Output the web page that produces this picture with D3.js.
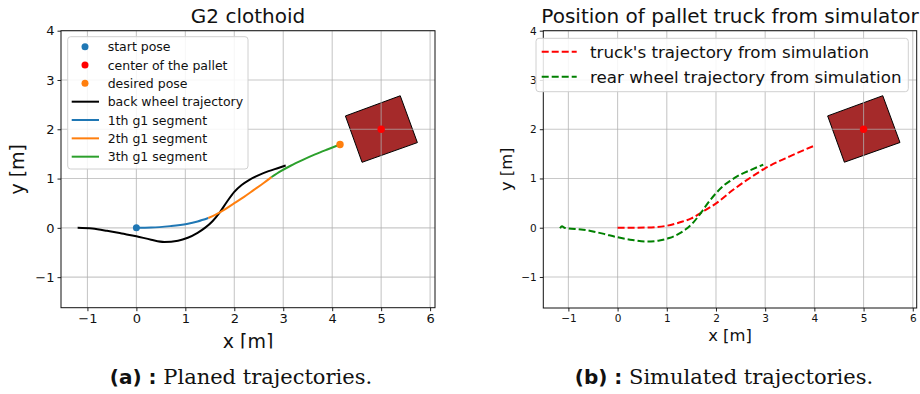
<!DOCTYPE html>
<html><head><meta charset="utf-8">
<script src="https://cdn.jsdelivr.net/npm/d3@7"></script>
<style>body{margin:0;background:#fff}svg{display:block}text{font-family:"DejaVu Sans",sans-serif}</style>
</head><body><svg id="c" width="920" height="394"></svg>
<script>
// ---- data ----
const xTicks = [-1, 0, 1, 2, 3, 4, 5, 6];
const yTicks = [-1, 0, 1, 2, 3, 4];
const palletCorners = [[4.27, 2.27], [5.39, 2.68], [5.74, 1.73], [4.61, 1.33]];
const palletCenter = [5, 2];
const startPose = [0, 0];
const desiredPose = [4.16, 1.69];
const backWheelX = [-1.2, -0.9, -0.6, -0.3, 0, 0.3, 0.57, 0.85, 1.05, 1.25, 1.4, 1.55, 1.7, 1.85, 2.0, 2.15, 2.3, 2.5, 2.7, 2.9, 3.05];
const backWheelY = [0, -0.015, -0.06, -0.115, -0.17, -0.24, -0.285, -0.26, -0.2, -0.1, 0.0, 0.13, 0.31, 0.53, 0.73, 0.87, 0.97, 1.07, 1.15, 1.215, 1.265];
const seg1X = [0, 0.3, 0.69, 1.03, 1.25, 1.47];
const seg1Y = [0, 0.005, 0.035, 0.08, 0.13, 0.2];
const seg2X = [1.47, 1.6, 1.8, 2.0, 2.2, 2.4, 2.6, 2.76];
const seg2Y = [0.2, 0.26, 0.37, 0.5, 0.63, 0.77, 0.91, 1.03];
const seg3X = [2.76, 2.95, 3.15, 3.4, 3.65, 3.9, 4.16];
const seg3Y = [1.03, 1.15, 1.26, 1.38, 1.49, 1.59, 1.69];
const simTruckX = [0, 0.3, 0.61, 1.0, 1.27, 1.5, 1.74, 2.01, 2.35, 2.69, 2.99, 3.5, 4.01];
const simTruckY = [0, 0, 0.005, 0.04, 0.11, 0.19, 0.33, 0.50, 0.77, 1.01, 1.2, 1.45, 1.67];
const simRearX = [-1.17, -1.13, -1.08, -0.7, -0.3, -0.02, 0.3, 0.59, 0.85, 1.05, 1.25, 1.4, 1.55, 1.7, 1.85, 2.0, 2.15, 2.3, 2.5, 2.7, 2.96];
const simRearY = [-0.01, 0.03, 0.0, -0.04, -0.12, -0.19, -0.25, -0.28, -0.26, -0.21, -0.12, -0.02, 0.12, 0.31, 0.52, 0.70, 0.85, 0.96, 1.08, 1.17, 1.28];
const leftLegend = ["start pose", "center of the pallet", "desired pose", "back wheel trajectory", "1th g1 segment", "2th g1 segment", "3th g1 segment"];
const rightLegend = ["truck's trajectory from simulation", "rear wheel trajectory from simulation"];

const zip = (a, b) => a.map((v, i) => [v, b[i]]);
const svg = d3.select("#c");
const C = {blue: "#1f77b4", orange: "#ff7f0e", green: "#2ca02c", red: "#ff0000", dgreen: "#008000", brown: "#a52a2a"};

function panel(o) {
  const x = d3.scaleLinear().domain(o.xd).range([o.l, o.r]);
  const y = d3.scaleLinear().domain(o.yd).range([o.b, o.t]);
  const g = svg.append("g");
  const clipId = "clip" + o.id;
  svg.append("clipPath").attr("id", clipId).append("rect").attr("x", o.l).attr("y", o.t).attr("width", o.r - o.l).attr("height", o.b - o.t);
  const plot = g.append("g").attr("clip-path", `url(#${clipId})`);
  plot.append("path").attr("d", d3.line().x(d => x(d[0])).y(d => y(d[1]))(palletCorners) + "Z")
    .attr("fill", C.brown).attr("stroke", "#000").attr("stroke-width", 1);
  plot.selectAll(".gx").data(xTicks).join("line").attr("x1", d => x(d)).attr("x2", d => x(d)).attr("y1", o.t).attr("y2", o.b)
    .attr("stroke", "#b0b0b0").attr("stroke-opacity", 0.7).attr("stroke-width", 1.1);
  plot.selectAll(".gy").data(yTicks).join("line").attr("y1", d => y(d)).attr("y2", d => y(d)).attr("x1", o.l).attr("x2", o.r)
    .attr("stroke", "#b0b0b0").attr("stroke-opacity", 0.7).attr("stroke-width", 1.1);
  const fmt = d => d < 0 ? "\u2212" + (-d) : d;
  const ax = g.append("g").attr("transform", `translate(0,${o.b})`).call(d3.axisBottom(x).tickValues(xTicks).tickSize(3.5).tickPadding(3).tickFormat(fmt));
  const ay = g.append("g").attr("transform", `translate(${o.l},0)`).call(d3.axisLeft(y).tickValues(yTicks).tickSize(3.5).tickPadding(3).tickFormat(fmt));
  [ax, ay].forEach(a => { a.select(".domain").remove(); a.selectAll("text").attr("font-family", "DejaVu Sans").attr("font-size", o.tick).attr("fill", "#111"); a.selectAll("line").attr("stroke", "#222"); });
  g.append("rect").attr("x", o.l).attr("y", o.t).attr("width", o.r - o.l).attr("height", o.b - o.t).attr("fill", "none").attr("stroke", "#111").attr("stroke-width", 1);
  return {x, y, g, plot};
}

const line = (p) => d3.line().x(d => p.x(d[0])).y(d => p.y(d[1])).curve(d3.curveMonotoneX);

// ---- left panel ----
const L = panel({id: "L", xd: [-1.54, 6.1], yd: [-1.62, 4.0], l: 61, r: 435, t: 30.7, b: 307.7, tick: 13});
L.plot.append("path").attr("d", line(L)(zip(backWheelX, backWheelY))).attr("fill", "none").attr("stroke", "#000").attr("stroke-width", 2);
L.plot.append("path").attr("d", line(L)(zip(seg1X, seg1Y))).attr("fill", "none").attr("stroke", C.blue).attr("stroke-width", 2);
L.plot.append("path").attr("d", line(L)(zip(seg2X, seg2Y))).attr("fill", "none").attr("stroke", C.orange).attr("stroke-width", 2);
L.plot.append("path").attr("d", line(L)(zip(seg3X, seg3Y))).attr("fill", "none").attr("stroke", C.green).attr("stroke-width", 2);
L.plot.append("circle").attr("cx", L.x(startPose[0])).attr("cy", L.y(startPose[1])).attr("r", 3.5).attr("fill", C.blue);
L.plot.append("circle").attr("cx", L.x(palletCenter[0])).attr("cy", L.y(palletCenter[1])).attr("r", 3.7).attr("fill", C.red);
L.plot.append("circle").attr("cx", L.x(desiredPose[0])).attr("cy", L.y(desiredPose[1])).attr("r", 3.7).attr("fill", C.orange);
const lg = L.g.append("g");
lg.append("rect").attr("x", 67.7).attr("y", 36.7).attr("width", 180.3).attr("height", 132.3).attr("rx", 3)
  .attr("fill", "#fff").attr("fill-opacity", 0.85).attr("stroke", "#d0d0d0").attr("stroke-width", 1);
const lcols = [C.blue, C.red, C.orange, "#000", C.blue, C.orange, C.green];
leftLegend.forEach((t, i) => {
  const cy = 46.7 + i * 18.33;
  if (i < 3) lg.append("circle").attr("cx", 85).attr("cy", cy).attr("r", 3.5).attr("fill", lcols[i]);
  else lg.append("line").attr("x1", 71.7).attr("x2", 99).attr("y1", cy).attr("y2", cy).attr("stroke", lcols[i]).attr("stroke-width", 2);
  lg.append("text").attr("x", 107.7).attr("y", cy + 4.5).attr("font-size", 12.5).attr("fill", "#111").text(t);
});
svg.append("text").attr("x", 248).attr("y", 23).attr("text-anchor", "middle").attr("font-size", 20).attr("fill", "#111").text("G2 clothoid");
svg.append("text").attr("transform", "translate(24,169.3) rotate(-90)").attr("text-anchor", "middle").attr("font-size", 19).attr("fill", "#111").text("y [m]");
svg.append("clipPath").attr("id", "xlclip").append("rect").attr("x", 0).attr("y", 0).attr("width", 460).attr("height", 348.5);
svg.append("text").attr("x", 248).attr("y", 348).attr("text-anchor", "middle").attr("font-size", 19).attr("fill", "#111").attr("clip-path", "url(#xlclip)").text("x [m]");

// ---- right panel ----
const R = panel({id: "R", xd: [-1.51, 6.08], yd: [-1.63, 4.0], l: 543.3, r: 916.7, t: 30.7, b: 308, tick: 10.5});
R.plot.append("path").attr("d", line(R)(zip(simTruckX, simTruckY))).attr("fill", "none").attr("stroke", C.red).attr("stroke-width", 2).attr("stroke-dasharray", "7,3");
R.plot.append("path").attr("d", line(R)(zip(simRearX, simRearY))).attr("fill", "none").attr("stroke", C.dgreen).attr("stroke-width", 2).attr("stroke-dasharray", "7,3");
R.plot.append("circle").attr("cx", R.x(palletCenter[0])).attr("cy", R.y(palletCenter[1])).attr("r", 3.7).attr("fill", C.red);
const rg = R.g.append("g");
rg.append("rect").attr("x", 536).attr("y", 38.3).attr("width", 372.3).attr("height", 53.4).attr("rx", 3)
  .attr("fill", "#fff").attr("fill-opacity", 0.85).attr("stroke", "#d0d0d0").attr("stroke-width", 1);
const rcols = [C.red, C.dgreen];
rightLegend.forEach((t, i) => {
  const cy = 51.7 + i * 25;
  rg.append("line").attr("x1", 541.7).attr("x2", 576.7).attr("y1", cy).attr("y2", cy).attr("stroke", rcols[i]).attr("stroke-width", 2).attr("stroke-dasharray", "7,3");
  rg.append("text").attr("x", 590).attr("y", cy + 6).attr("font-size", 16.7).attr("fill", "#111").text(t);
});
svg.append("text").attr("x", 730).attr("y", 23).attr("text-anchor", "middle").attr("font-size", 20).attr("fill", "#111").text("Position of pallet truck from simulator");
svg.append("text").attr("transform", "translate(512,169.3) rotate(-90)").attr("text-anchor", "middle").attr("font-size", 16.3).attr("fill", "#111").text("y [m]");
svg.append("text").attr("x", 730).attr("y", 341).attr("text-anchor", "middle").attr("font-size", 16.4).attr("fill", "#111").text("x [m]");

// ---- captions ----
function caption(cx, label, txt) {
  const t = svg.append("text").attr("y", 384).attr("font-size", 21).attr("fill", "#111");
  t.append("tspan").attr("font-family", "DejaVu Sans").attr("font-weight", "bold").attr("font-size", 20).text(label);
  t.append("tspan").attr("font-family", "DejaVu Serif").text("\u00a0" + txt);
  const w = t.node().getComputedTextLength();
  t.attr("x", cx - w / 2);
}
caption(241, "(a) :", "Planed trajectories.");
caption(724, "(b) :", "Simulated trajectories.");
</script></body></html>
